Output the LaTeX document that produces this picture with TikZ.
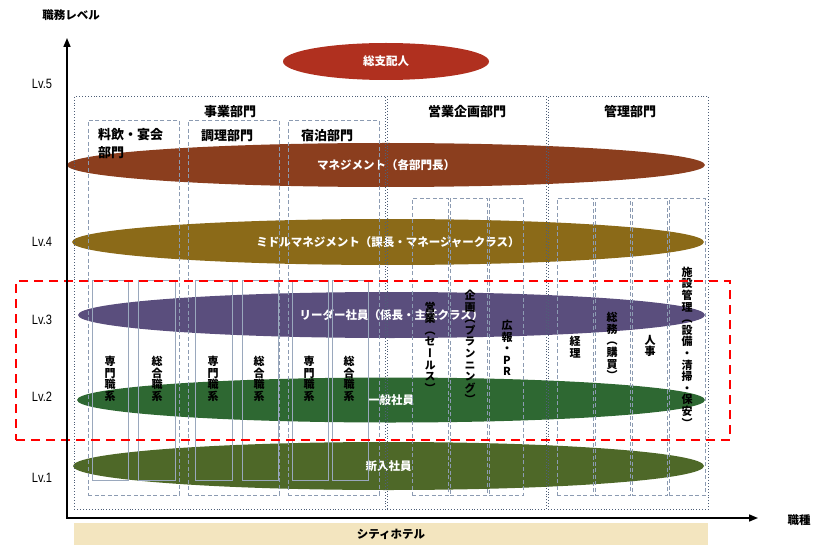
\documentclass[tikz,border=0pt]{standalone}
\usepackage{fontspec}
\setmainfont{Noto Sans CJK JP}
\newfontfamily\vjp{Noto Sans CJK JP}[RawFeature=+vert]
\newfontfamily\lvfont{Liberation Sans}
\usetikzlibrary{shapes.geometric,arrows.meta}
\definecolor{gmred}{HTML}{B0301F}
\definecolor{mgbrown}{HTML}{8B3E1E}
\definecolor{midolive}{HTML}{8B6A18}
\definecolor{leadpurple}{HTML}{5A4E7D}
\definecolor{gengreen}{HTML}{2E6832}
\definecolor{newgreen}{HTML}{4E6828}
\definecolor{beige}{HTML}{F3E5BF}
\definecolor{boxdark}{HTML}{4F5F78}
\definecolor{boxgray}{HTML}{8C9BB2}
\definecolor{boxlight}{HTML}{9AA8BD}
\begin{document}
\begin{tikzpicture}[x=1pt,y=-1pt,
  ell/.style={ellipse, inner sep=0pt, text=white, font=\bfseries\fontsize{11.5}{13}\selectfont},
  outerbox/.style={draw=boxdark, dotted, line width=0.9pt, inner sep=0pt, anchor=north west},
  subbox/.style={draw=boxgray, dash pattern=on 4pt off 2.5pt, line width=0.7pt, inner sep=0pt, anchor=north west},
  rbox/.style={draw=boxlight, line width=0.8pt, inner sep=0pt, anchor=north west, minimum width=36pt, minimum height=200pt},
  vtext/.style={font=\vjp\bfseries\fontsize{11}{11.6}\selectfont, align=center, inner sep=0pt},
  hdr/.style={font=\bfseries\fontsize{13}{15}\selectfont, inner sep=0pt},
  lvlabel/.style={font=\lvfont\fontsize{13.5}{15}\selectfont, inner sep=0pt},
  axis/.style={line width=1.6pt, line join=miter},
  focus/.style={draw=red, line width=2pt, dash pattern=on 9pt off 6pt, inner sep=0pt, anchor=north west}
]
\useasboundingbox (0,0) rectangle (813,545);

% ellipses (levels)
\node[ell, fill=gmred, minimum width=206pt, minimum height=37pt] (gm) at (386,61.5) {総支配人};
\node[ell, fill=mgbrown, minimum width=638pt, minimum height=44pt] (mg) at (386,165) {マネジメント（各部門長）};
\node[ell, fill=midolive, minimum width=632pt, minimum height=46pt] (mid) at (388,242) {ミドルマネジメント（課長・マネージャークラス）};
\node[ell, fill=leadpurple, minimum width=627pt, minimum height=46pt] (lead) at (391.5,315) {リーダー社員（係長・主任クラス）};
\node[ell, fill=gengreen, minimum width=628pt, minimum height=45pt] (gen) at (391,400) {一般社員};
\node[ell, fill=newgreen, minimum width=631pt, minimum height=48pt] (new) at (388.5,466) {新入社員};

% outer department boxes
\node[outerbox, minimum width=311pt, minimum height=413pt] (o1) at (74,96) {};
\node[outerbox, minimum width=159pt, minimum height=413pt] (o2) at (387,96) {};
\node[outerbox, minimum width=160pt, minimum height=413pt] (o3) at (548,96) {};

% sub boxes
\node[subbox, minimum width=91pt, minimum height=375pt] (s1) at (88,120) {};
\node[subbox, minimum width=91pt, minimum height=375pt] (s2) at (188,120) {};
\node[subbox, minimum width=91pt, minimum height=375pt] (s3) at (288,120) {};
\node[subbox, minimum width=36pt, minimum height=297pt] (e1) at (412,198) {};
\node[subbox, minimum width=37pt, minimum height=297pt] (e2) at (450,198) {};
\node[subbox, minimum width=34pt, minimum height=297pt] (e3) at (489,198) {};
\node[subbox, minimum width=36pt, minimum height=297pt] (k1) at (557,198) {};
\node[subbox, minimum width=35pt, minimum height=297pt] (k2) at (595,198) {};
\node[subbox, minimum width=35pt, minimum height=297pt] (k3) at (632,198) {};
\node[subbox, minimum width=36pt, minimum height=297pt] (k4) at (669,198) {};

% job-track boxes
\node[rbox] (r1) at (92,280) {};
\node[rbox, minimum width=37pt] (r2) at (138,280) {};
\node[rbox, minimum width=37pt] (r3) at (195,280) {};
\node[rbox] (r4) at (242,280) {};
\node[rbox] (r5) at (292,280) {};
\node[rbox] (r6) at (332,280) {};

% vertical texts
\node[vtext] (v1) at (110,379) {専\\門\\職\\系};
\node[vtext] (v2) at (157,379) {総\\合\\職\\系};
\node[vtext] (v3) at (213,379) {専\\門\\職\\系};
\node[vtext] (v4) at (259,379) {総\\合\\職\\系};
\node[vtext] (v5) at (309,379) {専\\門\\職\\系};
\node[vtext] (v6) at (349,379) {総\\合\\職\\系};
\node[vtext] (t1) at (430,347) {営\\業\\（\\セ\\ー\\ル\\ス\\）};
\node[vtext] (t2) at (470,347) {企\\画\\（\\プ\\ラ\\ン\\ニ\\ン\\グ\\）};
\node[vtext] (t3) at (507,348) {広\\報\\・\\P\\R};
\node[vtext] (t4) at (575,347) {経\\理};
\node[vtext] (t5) at (612,346) {総\\務\\（\\購\\買\\）};
\node[vtext] (t6) at (650,346) {人\\事};
\node[vtext] (t7) at (687,347) {施\\設\\管\\理\\（\\設\\備\\・\\清\\掃\\・\\保\\安\\）};

% headers
\node[hdr] (h1) at (230,112) {事業部門};
\node[hdr] (h2) at (467,112) {営業企画部門};
\node[hdr] (h3) at (630,112) {管理部門};
\node[hdr, anchor=north west, align=left, font=\bfseries\fontsize{13}{18}\selectfont] (h4) at (98,128) {料飲・宴会\\部門};
\node[hdr] (h5) at (227,136) {調理部門};
\node[hdr] (h6) at (327,136) {宿泊部門};

% focus box
\node[focus, minimum width=714pt, minimum height=159pt] (fb) at (15,280) {};

% axes
\coordinate (org) at (67,518);
\coordinate (ytip) at (67,38);
\coordinate (xtip) at (758,518);
\draw[axis, {Triangle[length=9pt,width=7pt]}-{Triangle[length=9pt,width=7pt]}] (ytip) -- (org) -- (xtip);
\node[font=\bfseries\fontsize{11.5}{13}\selectfont, inner sep=0pt] (ylab) at (71,15) {職務レベル};
\node[font=\bfseries\fontsize{11.5}{13}\selectfont, inner sep=0pt] (xlab) at (799,520) {職種};

% level labels
\node[lvlabel] (l5) at (42,84) {\scalebox{0.82}[1]{Lv.5}};
\node[lvlabel] (l4) at (42,242) {\scalebox{0.82}[1]{Lv.4}};
\node[lvlabel] (l3) at (42,320) {\scalebox{0.82}[1]{Lv.3}};
\node[lvlabel] (l2) at (42,397) {\scalebox{0.82}[1]{Lv.2}};
\node[lvlabel] (l1) at (42,478) {\scalebox{0.82}[1]{Lv.1}};

% bottom band
\node[fill=beige, minimum width=634pt, minimum height=22pt, inner sep=0pt, font=\bfseries\fontsize{11.5}{13}\selectfont] (band) at (391,534) {シティホテル};
\end{tikzpicture}
\end{document}
